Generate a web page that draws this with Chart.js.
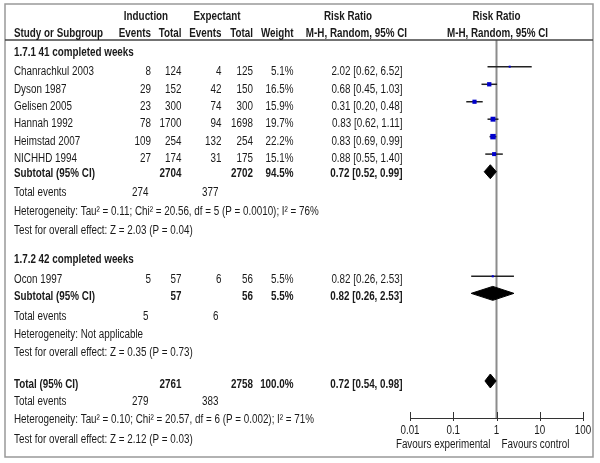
<!DOCTYPE html>
<html lang="en">
<head>
<meta charset="UTF-8">
<title>Forest plot - Induction vs Expectant</title>
<style>
    * { margin: 0; padding: 0; box-sizing: border-box; }
    body { background: #fff; }
    canvas { display: block; }
</style>
</head>
<body>
<canvas id="forest" width="600" height="463"></canvas>
<script src="https://cdn.jsdelivr.net/npm/chart.js"></script>
<script>
    // study data
    const studies = ['Chanrachkul 2003', 'Dyson 1987', 'Gelisen 2005', 'Hannah 1992', 'Heimstad 2007', 'NICHHD 1994', 'Ocon 1997'];
    const indEvents = [8, 29, 23, 78, 109, 27, 5];
    const indTotal = [124, 152, 300, 1700, 254, 174, 57];
    const expEvents = [4, 42, 74, 94, 132, 31, 6];
    const expTotal = [125, 150, 300, 1698, 254, 175, 56];
    const weights = [5.1, 16.5, 15.9, 19.7, 22.2, 15.1, 5.5];
    const rr = [2.02, 0.68, 0.31, 0.83, 0.83, 0.88, 0.82];
    const rrLow = [0.62, 0.45, 0.20, 0.62, 0.69, 0.55, 0.26];
    const rrHigh = [6.52, 1.03, 0.48, 1.11, 0.99, 1.40, 2.53];

    // subtotals / total
    const poolLabels = ['Subtotal (95% CI)', 'Subtotal (95% CI)', 'Total (95% CI)'];
    const poolIndTotal = [2704, 57, 2761];
    const poolExpTotal = [2702, 56, 2758];
    const poolWeight = [94.5, 5.5, 100.0];
    const poolRR = [0.72, 0.82, 0.72];
    const poolLow = [0.52, 0.26, 0.54];
    const poolHigh = [0.99, 2.53, 0.98];
    const poolIndEvents = [274, 5, 279];
    const poolExpEvents = [377, 6, 383];
    const heterogeneity = [
        'Heterogeneity: Tau\u00b2 = 0.11; Chi\u00b2 = 20.56, df = 5 (P = 0.0010); I\u00b2 = 76%',
        'Heterogeneity: Not applicable',
        'Heterogeneity: Tau\u00b2 = 0.10; Chi\u00b2 = 20.57, df = 6 (P = 0.002); I\u00b2 = 71%'
    ];
    const overallTest = [
        'Test for overall effect: Z = 2.03 (P = 0.04)',
        'Test for overall effect: Z = 0.35 (P = 0.73)',
        'Test for overall effect: Z = 2.12 (P = 0.03)'
    ];
    const groups = ['1.7.1 41 completed weeks', '1.7.2 42 completed weeks'];
    const tickValues = [0.01, 0.1, 1, 10, 100];
    const tickLabels = ['0.01', '0.1', '1', '10', '100'];

    // layout: rows (in row units of the y scale) and column x in pixels
    const studyRow = [3.18, 4.18, 5.19, 6.16, 7.16, 8.14, 15.07];
    const studyMark = [2.96, 3.97, 4.97, 5.97, 6.97, 7.97, 14.97];
    const poolRow = [9.0, 16.05, 21.09];
    const poolMark = [8.98, 15.95, 20.97];
    const eventsRow = [10.09, 17.19, 22.06];
    const hetRow = [11.17, 18.22, 23.09];
    const testRow = [12.26, 19.25, 24.24];
    const groupRow = [2.06, 13.92];
    const R = { hdr1: 0, hdr2: 1.0, hline: 1.43, axis: 23.09, tick: 23.72, favours: 24.53 };
    const C = { name: 14, indEv: 151, indTot: 181.5, expEv: 221.5, expTot: 253, weight: 293.5,
                rrText: 402.5, evInd: 148.5, evExp: 218.5 };
    const diamondH = 0.4;
    const TEXT_DY = 1.5; // canvas 'middle' sits a little high for caps

    // font: use a narrow face if present, else squeeze Arial
    function hasFont(name) {
        const c = document.createElement('canvas').getContext('2d');
        const s = 'abcdefghijklmnop 0123456789';
        c.font = '12px monospace';
        const a = c.measureText(s).width;
        c.font = '12px "' + name + '", monospace';
        return c.measureText(s).width !== a;
    }
    const narrow = hasFont('Liberation Sans Narrow');
    const FACE = narrow ? '"Liberation Sans Narrow"' : '"Liberation Sans", Arial';
    const SX = narrow ? 1 : 0.82;

    const datasets = [];
    datasets.push({
        type: 'line', order: 10,
        data: [{ x: 1, y: R.hline }, { x: 1, y: R.axis }],
        borderColor: '#8c8c8c', borderWidth: 2, pointRadius: 0
    });
    studies.forEach((s, i) => {
        datasets.push({
            type: 'line', order: 5,
            data: [{ x: rrLow[i], y: studyMark[i] }, { x: rrHigh[i], y: studyMark[i] }],
            borderColor: '#222', borderWidth: 1.5, pointRadius: 0
        });
    });
    datasets.push({
        type: 'scatter', order: 1,
        data: studies.map((s, i) => ({ x: rr[i], y: studyMark[i] })),
        pointStyle: 'rect',
        pointRadius: weights.map(w => (1 + w * 0.2) / Math.SQRT2),
        pointBorderWidth: 0,
        backgroundColor: '#0000cc'
    });
    poolRR.forEach((v, i) => {
        datasets.push({
            type: 'line', order: 1,
            data: [
                { x: poolLow[i], y: poolMark[i] },
                { x: v, y: poolMark[i] - diamondH },
                { x: poolHigh[i], y: poolMark[i] },
                { x: v, y: poolMark[i] + diamondH },
                { x: poolLow[i], y: poolMark[i] }
            ],
            borderColor: '#000', borderWidth: 1, backgroundColor: '#000',
            fill: 'shape', pointRadius: 0, tension: 0
        });
    });

    const tablePlugin = {
        id: 'table',
        afterDraw(chart) {
            const ctx = chart.ctx;
            const x = chart.scales.x, y = chart.scales.y;
            const py = r => y.getPixelForValue(r);

            function txt(s, px, row, align, bold) {
                ctx.save();
                ctx.font = (bold ? 'bold ' : '') + '12px ' + FACE;
                ctx.fillStyle = '#1a1a1a';
                ctx.textAlign = align || 'left';
                ctx.textBaseline = 'middle';
                ctx.translate(px, py(row) + TEXT_DY);
                ctx.scale(SX, 1);
                ctx.fillText(s, 0, 0);
                ctx.restore();
            }

            // frame and header rule
            ctx.save();
            ctx.strokeStyle = '#999';
            ctx.lineWidth = 1.5;
            ctx.strokeRect(5, 4, 588, 453);
            ctx.strokeStyle = '#444';
            ctx.beginPath();
            ctx.moveTo(5, py(R.hline));
            ctx.lineTo(593, py(R.hline));
            ctx.stroke();
            ctx.restore();

            // headers
            txt('Induction', 146, R.hdr1, 'center', true);
            txt('Expectant', 217, R.hdr1, 'center', true);
            txt('Risk Ratio', 348, R.hdr1, 'center', true);
            txt('Risk Ratio', x.getPixelForValue(1), R.hdr1, 'center', true);
            txt('Study or Subgroup', C.name, R.hdr2, 'left', true);
            txt('Events', C.indEv, R.hdr2, 'right', true);
            txt('Total', C.indTot, R.hdr2, 'right', true);
            txt('Events', C.expEv, R.hdr2, 'right', true);
            txt('Total', C.expTot, R.hdr2, 'right', true);
            txt('Weight', C.weight, R.hdr2, 'right', true);
            txt('M-H, Random, 95% CI', 407, R.hdr2, 'right', true);
            txt('M-H, Random, 95% CI', x.getPixelForValue(1) + 1, R.hdr2, 'center', true);

            groups.forEach((g, i) => txt(g, C.name, groupRow[i], 'left', true));

            studies.forEach((s, i) => {
                const r = studyRow[i];
                txt(s, C.name, r);
                txt(String(indEvents[i]), C.indEv, r, 'right');
                txt(String(indTotal[i]), C.indTot, r, 'right');
                txt(String(expEvents[i]), C.expEv, r, 'right');
                txt(String(expTotal[i]), C.expTot, r, 'right');
                txt(weights[i].toFixed(1) + '%', C.weight, r, 'right');
                txt(rr[i].toFixed(2) + ' [' + rrLow[i].toFixed(2) + ', ' + rrHigh[i].toFixed(2) + ']', C.rrText, r, 'right');
            });

            poolLabels.forEach((s, i) => {
                const r = poolRow[i];
                txt(s, C.name, r, 'left', true);
                txt(String(poolIndTotal[i]), C.indTot, r, 'right', true);
                txt(String(poolExpTotal[i]), C.expTot, r, 'right', true);
                txt(poolWeight[i].toFixed(1) + '%', C.weight, r, 'right', true);
                txt(poolRR[i].toFixed(2) + ' [' + poolLow[i].toFixed(2) + ', ' + poolHigh[i].toFixed(2) + ']', C.rrText, r, 'right', true);
                txt('Total events', C.name, eventsRow[i]);
                txt(String(poolIndEvents[i]), C.evInd, eventsRow[i], 'right');
                txt(String(poolExpEvents[i]), C.evExp, eventsRow[i], 'right');
                txt(heterogeneity[i], C.name, hetRow[i]);
                txt(overallTest[i], C.name, testRow[i]);
            });

            // log axis
            const ay = Math.round(py(R.axis)) + 0.5;
            ctx.save();
            ctx.strokeStyle = '#333';
            ctx.lineWidth = 1;
            ctx.beginPath();
            ctx.moveTo(x.getPixelForValue(tickValues[0]), ay);
            ctx.lineTo(x.getPixelForValue(tickValues[tickValues.length - 1]), ay);
            tickValues.forEach(v => {
                const tx = Math.round(x.getPixelForValue(v)) + 0.5;
                ctx.moveTo(tx, ay - 6.5);
                ctx.lineTo(tx, ay + 2.5);
            });
            ctx.stroke();
            ctx.restore();
            tickValues.forEach((v, i) => txt(tickLabels[i], x.getPixelForValue(v), R.tick, 'center'));
            txt('Favours experimental', x.getPixelForValue(1) - 6, R.favours, 'right');
            txt('Favours control', x.getPixelForValue(1) + 5, R.favours, 'left');
        }
    };

    const forestChart = new Chart(document.getElementById('forest').getContext('2d'), {
        type: 'scatter',
        data: { datasets: datasets },
        options: {
            responsive: false,
            animation: false,
            events: [],
            layout: { autoPadding: false, padding: { left: 410, right: 17, top: 0, bottom: 0 } },
            scales: {
                x: { type: 'logarithmic', min: 0.01, max: 100, display: false },
                y: { type: 'linear', min: -0.86, max: 25.67, reverse: true, display: false }
            },
            plugins: {
                legend: { display: false },
                tooltip: { enabled: false }
            }
        },
        plugins: [tablePlugin]
    });
</script>
</body>
</html>
